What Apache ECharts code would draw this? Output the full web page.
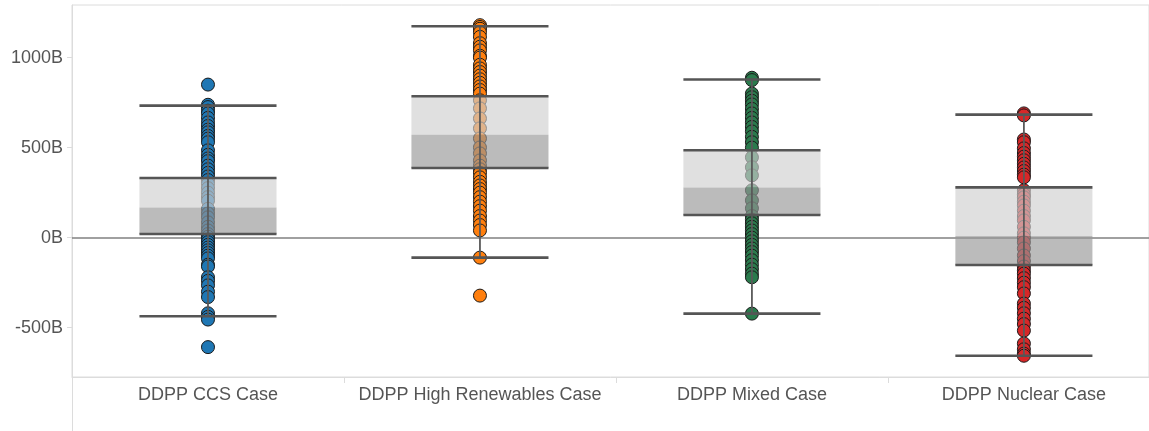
<!DOCTYPE html>
<html>
<head>
<meta charset="utf-8">
<script src="https://cdn.jsdelivr.net/npm/echarts@6/dist/echarts.min.js"></script>
<style>
html,body{margin:0;padding:0;background:#fff;}
#chart{width:1149px;height:431px;}
</style>
</head>
<body>
<div id="chart"></div>
<script>
// ---- data (values in billions) ----
const categories = ['DDPP CCS Case', 'DDPP High Renewables Case', 'DDPP Mixed Case', 'DDPP Nuclear Case'];
const yTickValues = [-500, 0, 500, 1000];

const ccsValues = [850, 738, 725, 705, 690, 665, 640, 620, 600, 585, 565, 550, 530, 485, 460, 440, 425, 400, 380, 360, 340, 320, 300, 275, 250, 225, 205, 160, 135, 113, 85, 60, 40, 20, 5, -10, -25, -40, -55, -70, -85, -100, -115, -150, -160, -220, -240, -265, -300, -330, -420, -440, -455, -608];
const highRenewablesValues = [1180, 1170, 1160, 1140, 1115, 1080, 1060, 1040, 1010, 1000, 960, 940, 920, 900, 880, 860, 840, 820, 800, 763, 718, 662, 607, 551, 501, 468, 429, 400, 380, 360, 335, 310, 290, 270, 250, 225, 200, 175, 150, 120, 95, 70, 40, -111, -322];
const mixedValues = [888, 875, 800, 780, 760, 740, 715, 690, 665, 640, 615, 590, 560, 530, 500, 446, 391, 346, 263, 207, 163, 120, 100, 80, 60, 40, 20, 0, -20, -40, -60, -80, -100, -125, -150, -175, -200, -220, -422];
const nuclearValues = [690, 679, 545, 530, 496, 470, 450, 430, 410, 390, 370, 350, 335, 263, 240, 224, 200, 179, 150, 120, 96, 60, 24, 0, -26, -60, -99, -130, -160, -182, -200, -225, -250, -275, -310, -366, -390, -420, -450, -480, -516, -588, -620, -644, -656];

// box stats: [lowerWhisker, q1, median, q3, upperWhisker]
const ccsBox = [-437, 20, 168, 331, 733];
const highRenewablesBox = [-111, 387, 572, 785, 1174];
const mixedBox = [-422, 126, 279, 485, 878];
const nuclearBox = [-656, -152, 9, 279, 683];

const seriesColors = ['#1f77b4', '#ff7f0e', '#2a7a4c', '#d62728'];

// ---- build ----
const allValues = [ccsValues, highRenewablesValues, mixedValues, nuclearValues];
const allBoxes = [ccsBox, highRenewablesBox, mixedBox, nuclearBox];
const FONT = "'Liberation Sans', Arial, sans-serif";
const catPositions = categories.map((c, i) => i);
const catSeparators = categories.slice(1).map((c, i) => i + 0.5);

const scatterSeries = allValues.map((vals, i) => ({
  type: 'scatter',
  name: categories[i],
  data: vals.map(v => [i, v]),
  symbolSize: 13,
  itemStyle: { color: seriesColors[i], borderColor: '#1a1a1a', borderWidth: 1, opacity: 1 },
  z: 3,
  silent: true,
  markLine: i === 0 ? {
    silent: true, symbol: 'none', label: { show: false },
    lineStyle: { color: '#808080', width: 1.5, type: 'solid' },
    data: [{ yAxis: 0 }],
    z: 2
  } : undefined
}));

function renderBox(params, api) {
  const ci = api.value(0);
  const lw = api.coord([ci, api.value(1)]);
  const q1 = api.coord([ci, api.value(2)]);
  const md = api.coord([ci, api.value(3)]);
  const q3 = api.coord([ci, api.value(4)]);
  const uw = api.coord([ci, api.value(5)]);
  const half = api.size([1, 0])[0] * 0.252;
  const cx = lw[0];
  const lineStyle = { stroke: '#555555', lineWidth: 2.6 };
  return {
    type: 'group',
    children: [
      { type: 'rect', shape: { x: cx - half, y: q3[1], width: half * 2, height: md[1] - q3[1] },
        style: { fill: 'rgba(207,207,207,0.65)' } },
      { type: 'rect', shape: { x: cx - half, y: md[1], width: half * 2, height: q1[1] - md[1] },
        style: { fill: 'rgba(150,150,150,0.65)' } },
      { type: 'line', shape: { x1: cx, y1: lw[1], x2: cx, y2: uw[1] },
        style: { stroke: '#5a5a5a', lineWidth: 1.8 } },
      { type: 'line', shape: { x1: cx - half, y1: q3[1], x2: cx + half, y2: q3[1] }, style: lineStyle },
      { type: 'line', shape: { x1: cx - half, y1: q1[1], x2: cx + half, y2: q1[1] }, style: lineStyle },
      { type: 'line', shape: { x1: cx - half, y1: uw[1], x2: cx + half, y2: uw[1] }, style: lineStyle },
      { type: 'line', shape: { x1: cx - half, y1: lw[1], x2: cx + half, y2: lw[1] }, style: lineStyle }
    ]
  };
}

const boxSeries = {
  type: 'custom',
  renderItem: renderBox,
  data: allBoxes.map((b, i) => [i].concat(b)),
  z: 5,
  silent: true
};

const chart = echarts.init(document.getElementById('chart'), null, { renderer: 'canvas' });
chart.setOption({
  animation: false,
  backgroundColor: '#ffffff',
  grid: { left: 72, top: 5, right: 0, height: 372, show: true, borderColor: '#dcdcdc', borderWidth: 1, backgroundColor: 'transparent' },
  xAxis: {
    type: 'value',
    min: -0.5,
    max: 3.46,
    axisLine: { show: true, onZero: false, lineStyle: { color: '#dcdcdc', width: 1 } },
    axisTick: { show: true, length: 6, lineStyle: { color: '#dcdcdc' }, customValues: catSeparators },
    axisLabel: { color: '#555555', fontSize: 18, fontFamily: FONT, margin: 9,
      customValues: catPositions, formatter: v => categories[Math.round(v)] },
    splitLine: { show: false }
  },
  yAxis: {
    type: 'value',
    min: -774,
    max: 1292,
    axisLine: { show: true, onZero: false, lineStyle: { color: '#dcdcdc', width: 1 } },
    axisTick: { show: true, length: 5, lineStyle: { color: '#dcdcdc' }, customValues: yTickValues },
    axisLabel: { color: '#555555', fontSize: 18, fontFamily: FONT, margin: 9,
      customValues: yTickValues, formatter: v => v + 'B' },
    splitLine: { show: false }
  },
  graphic: [
    { type: 'line', shape: { x1: 72.5, y1: 377, x2: 72.5, y2: 431 }, style: { stroke: '#dcdcdc', lineWidth: 1 } }
  ],
  series: scatterSeries.concat([boxSeries])
});
</script>
</body>
</html>
